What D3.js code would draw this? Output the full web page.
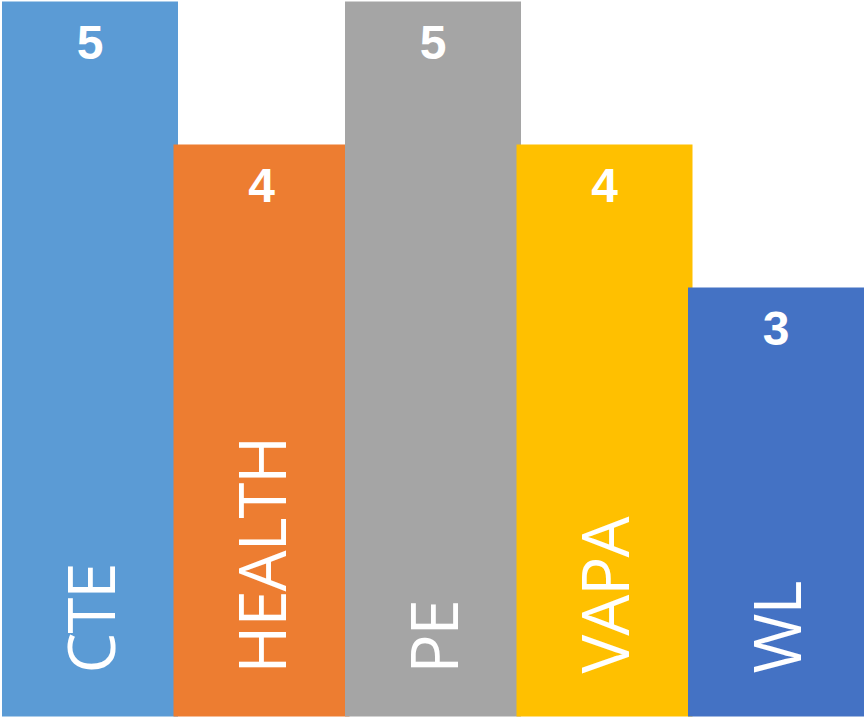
<!DOCTYPE html>
<html>
<head>
<meta charset="utf-8">
<script src="https://cdn.jsdelivr.net/npm/d3@7"></script>
<style>
  html, body { margin: 0; padding: 0; background: #fff; }
  svg { display: block; }
</style>
</head>
<body>
<svg id="chart" width="864" height="721"></svg>
<script>
// Course counts by subject area
const categories = ["CTE", "HEALTH", "PE", "VAPA", "WL"];
const counts = [5, 4, 5, 4, 3];
const colors = ["#5B9BD5", "#ED7D31", "#A5A5A5", "#FFC000", "#4472C4"];

const data = categories.map((c, i) => ({ cat: c, value: counts[i], color: colors[i] }));

const svg = d3.select("#chart");

const x = d3.scaleBand()
  .domain(categories)
  .range([2, 859.5])
  .padding(0);

const y = d3.scaleLinear()
  .domain([0, 5])
  .range([716.5, 1.5]);

// bars overlap their neighbour slightly; later bars sit on top
const barW = x.bandwidth() + 4.5;

const g = svg.append("g");

g.selectAll("rect.bar")
  .data(data)
  .join("rect")
  .attr("class", "bar")
  .attr("x", d => x(d.cat))
  .attr("y", d => y(d.value))
  .attr("width", barW)
  .attr("height", d => y(0) - y(d.value))
  .attr("fill", d => d.color);

// value labels near the top of each bar
g.selectAll("text.value")
  .data(data)
  .join("text")
  .attr("class", "value")
  .attr("x", d => x(d.cat) + barW / 2)
  .attr("y", d => y(d.value) + 57)
  .attr("text-anchor", "middle")
  .attr("fill", "#fff")
  .style("font-family", "'Liberation Sans', Arial, sans-serif")
  .style("font-weight", "bold")
  .style("font-size", "48px")
  .text(d => d.value);

// category names, rotated, reading upward from the bottom of each bar
g.selectAll("text.cat")
  .data(data)
  .join("text")
  .attr("class", "cat")
  .attr("transform", d => `translate(${x(d.cat) + barW / 2 + 24.5},${y(0) - 43}) rotate(-90)`)
  .attr("text-anchor", "start")
  .attr("fill", "#fff")
  .style("font-family", "'Open Sans', sans-serif")
  .style("font-size", "65px")
  .style("letter-spacing", "-1px")
  .text(d => d.cat);
</script>
</body>
</html>
